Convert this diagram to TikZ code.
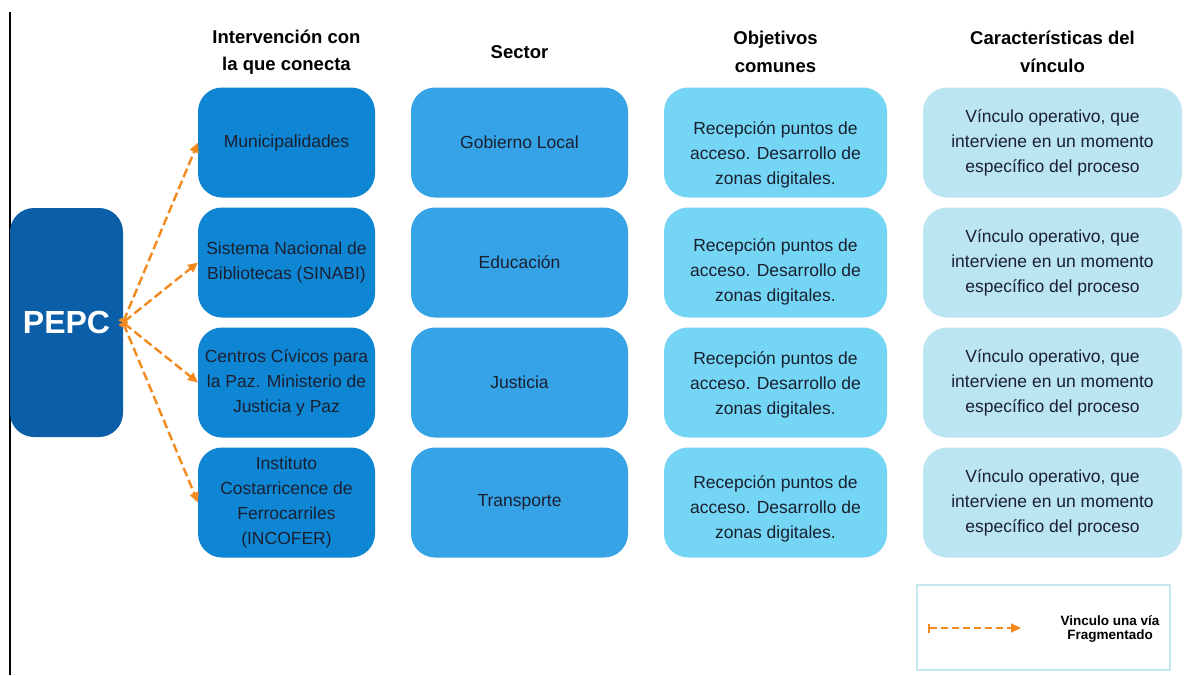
\documentclass[tikz,border=0pt]{standalone}
\usepackage{fontspec}
\setmainfont{Liberation Sans}
\usetikzlibrary{arrows.meta,backgrounds}
\definecolor{pepcblue}{HTML}{0B5EA8}
\definecolor{cone}{HTML}{0E86D4}
\definecolor{ctwo}{HTML}{35A3E6}
\definecolor{cthree}{HTML}{74D6F4}
\definecolor{cfour}{HTML}{BBE5F0}
\definecolor{legline}{HTML}{C5E6EF}
\definecolor{arrorange}{HTML}{F28A1E}
\definecolor{boxtext}{HTML}{1A2030}
\begin{document}
\begin{tikzpicture}[x=1pt,y=-1pt,
  box/.style={rounded corners=24pt, inner sep=0pt, outer sep=0pt, align=center,
    minimum height=110pt, text=boxtext, font=\fontsize{17.5}{25}\selectfont},
  c1box/.style={box, fill=cone, minimum width=177pt},
  c2box/.style={box, fill=ctwo, minimum width=217pt},
  c3box/.style={box, fill=cthree, minimum width=223pt},
  c4box/.style={box, fill=cfour, minimum width=259pt},
  bodytext/.style={align=center, text=boxtext, inner sep=0pt, font=\fontsize{17.5}{25}\selectfont},
  hdr/.style={align=center, inner sep=0pt, font=\fontsize{18.5}{27.5}\selectfont\bfseries},
  conn/.style={draw=arrorange, line width=2.4pt, dash pattern=on 9pt off 4pt,
    {Bar[width=9pt,line width=2pt]}-{Triangle[length=10pt,width=9pt]}}
]
\useasboundingbox (0,0) rectangle (1189,675);
\fill[white] (0,0) rectangle (1189,675);

% left vertical rule
\draw[line width=2pt] (10,12) -- (10,675);

% PEPC
\node[fill=pepcblue, rounded corners=24pt, minimum width=113pt, minimum height=229pt,
  inner sep=0pt, outer sep=0pt, text=white, font=\fontsize{32}{36}\selectfont\bfseries]
  (pepc) at (66.5,322.5) {PEPC};
\begin{scope}[on background layer]
  \fill[pepcblue] (pepc.north west) rectangle ([xshift=30pt]pepc.south west);
\end{scope}

% headers
\node[hdr] (h1) at (286.5,52) {Intervención con\\la que conecta};
\node[hdr] (h2) at (519.5,52) {Sector};
\node[hdr] (h3) at (775.5,52) {Objetivos\\comunes};
\node[hdr] (h4) at (1052.5,52) {Características del\\vínculo};

% column 1
\node[c1box] (m1) at (286.5,142.5) {Municipalidades};
\node[c1box] (m2) at (286.5,262.5) {Sistema Nacional de\\Bibliotecas (SINABI)};
\node[c1box] (m3) at (286.5,382.5) {Centros Cívicos para\\la Paz. Ministerio de\\Justicia y Paz};
\node[c1box] (m4) at (286.5,502.5) {Instituto\\Costarricence de\\Ferrocarriles\\(INCOFER)};

% column 2
\node[c2box] (s1) at (519.5,142.5) {Gobierno Local};
\node[c2box] (s2) at (519.5,262.5) {Educación};
\node[c2box] (s3) at (519.5,382.5) {Justicia};
\node[c2box] (s4) at (519.5,502.5) {Transporte};

% column 3
\node[c3box] (o1) at (775.5,142.5) {};
\node[c3box] (o2) at (775.5,262.5) {};
\node[c3box] (o3) at (775.5,382.5) {};
\node[c3box] (o4) at (775.5,502.5) {};
\node[bodytext, yshift=-12pt] (o1t) at (o1.center) {Recepción puntos de\\acceso. Desarrollo de\\zonas digitales.};
\node[bodytext, yshift=-9pt] (o2t) at (o2.center) {Recepción puntos de\\acceso. Desarrollo de\\zonas digitales.};
\node[bodytext, yshift=-2pt] (o3t) at (o3.center) {Recepción puntos de\\acceso. Desarrollo de\\zonas digitales.};
\node[bodytext, yshift=-6pt] (o4t) at (o4.center) {Recepción puntos de\\acceso. Desarrollo de\\zonas digitales.};

% column 4
\node[c4box] (v1) at (1052.5,142.5) {Vínculo operativo, que\\interviene en un momento\\específico del proceso};
\node[c4box] (v2) at (1052.5,262.5) {Vínculo operativo, que\\interviene en un momento\\específico del proceso};
\node[c4box] (v3) at (1052.5,382.5) {Vínculo operativo, que\\interviene en un momento\\específico del proceso};
\node[c4box] (v4) at (1052.5,502.5) {Vínculo operativo, que\\interviene en un momento\\específico del proceso};

% connectors
\draw[conn] (pepc.east) -- (m1.west);
\draw[conn] (pepc.east) -- (m2.west);
\draw[conn] (pepc.east) -- (m3.west);
\draw[conn] (pepc.east) -- (m4.west);

% legend
\node[draw=legline, line width=2pt, minimum width=253pt, minimum height=85pt, inner sep=0pt]
  (leg) at (1043.5,627.5) {};
\coordinate (ls) at (928,628);
\coordinate (le) at (1021,628);
\draw[conn, line width=2pt, dash pattern=on 7pt off 4pt] (ls) -- (le);
\node[align=center, inner sep=0pt, font=\fontsize{13.5}{13.5}\selectfont\bfseries]
  (legt) at (1110,629) {Vinculo una vía\\Fragmentado};
\end{tikzpicture}
\end{document}
